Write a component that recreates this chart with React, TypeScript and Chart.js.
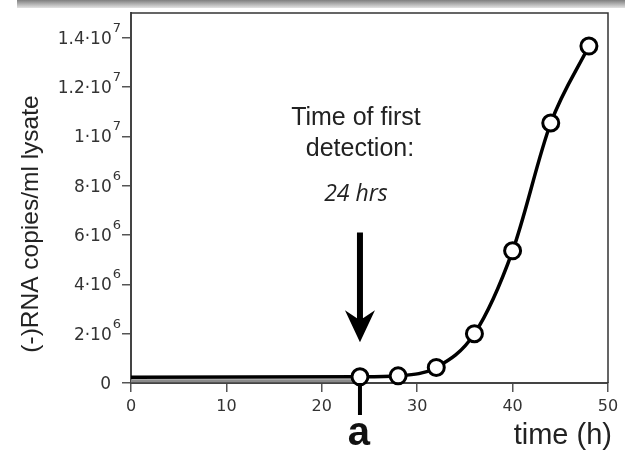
import React, { useEffect, useRef } from 'react';
import { Chart, registerables } from 'chart.js';

Chart.register(...registerables);

// ---- data ----
const timeHours = [0, 24, 28, 32, 36, 40, 44, 48];
const rnaCopies = [2.3e5, 2.5e5, 2.9e5, 6.3e5, 2.0e6, 5.36e6, 1.054e7, 1.366e7];
const markerShown = [false, true, true, true, true, true, true, true];
const shadowHours = [0, 24];
const shadowCopies = [9e4, 9e4];
const yTickValues = [0, 2e6, 4e6, 6e6, 8e6, 1e7, 1.2e7, 1.4e7];
const yTickBases = ['0', '2·10', '4·10', '6·10', '8·10', '1·10', '1.2·10', '1.4·10'];
const yTickExponents = ['', '6', '6', '6', '6', '7', '7', '7'];
const xTitle = 'time (h)';
const yTitle = '(-)RNA copies/ml lysate';
const annotationLines = ['Time of first', 'detection:'];
const annotationHours = '24 hrs';
const detectionHour = 24;
const arrowTopValue = 6.1e6;
const arrowTipValue = 1.65e6;
const panelLabel = 'a';

const decorPlugin = {
  id: 'decor',
  afterDraw(chart: any) {
    const { ctx, chartArea, scales } = chart;
    const xs = scales.x;
    const ys = scales.y;
    ctx.save();
    // frame top/right
    ctx.strokeStyle = '#333';
    ctx.lineWidth = 1.5;
    ctx.beginPath();
    ctx.moveTo(chartArea.left, chartArea.top);
    ctx.lineTo(chartArea.right, chartArea.top);
    ctx.lineTo(chartArea.right, chartArea.bottom);
    ctx.stroke();

    // y tick labels with superscript exponents
    ctx.fillStyle = '#333';
    ctx.textBaseline = 'alphabetic';
    ctx.textAlign = 'left';
    yTickValues.forEach((v, i) => {
      const py = ys.getPixelForValue(v);
      const base = yTickBases[i];
      const exp = yTickExponents[i];
      ctx.font = '17px "DejaVu Sans", sans-serif';
      const bw = ctx.measureText(base).width;
      ctx.font = '13px "DejaVu Sans", sans-serif';
      const ew = exp ? ctx.measureText(exp).width + 1 : 0;
      const right = exp ? chartArea.left - 10 : chartArea.left - 20;
      const startX = right - bw - ew;
      ctx.font = '17px "DejaVu Sans", sans-serif';
      ctx.fillText(base, startX, py + 6);
      if (exp) {
        ctx.font = '13px "DejaVu Sans", sans-serif';
        ctx.fillText(exp, startX + bw + 1, py - 6);
      }
    });

    const ax = xs.getPixelForValue(detectionHour);
    // vertical marker below axis
    ctx.fillStyle = '#000';
    ctx.fillRect(ax - 2, chartArea.bottom, 4, 32);

    // arrow
    const yTop = ys.getPixelForValue(arrowTopValue);
    const yTip = ys.getPixelForValue(arrowTipValue);
    ctx.beginPath();
    ctx.moveTo(ax - 3, yTop);
    ctx.lineTo(ax + 3, yTop);
    ctx.lineTo(ax + 3, yTip - 24);
    ctx.lineTo(ax + 15, yTip - 32);
    ctx.lineTo(ax, yTip);
    ctx.lineTo(ax - 15, yTip - 32);
    ctx.lineTo(ax - 3, yTip - 24);
    ctx.closePath();
    ctx.fill();

    // annotation text
    ctx.fillStyle = '#222';
    ctx.textAlign = 'center';
    ctx.textBaseline = 'alphabetic';
    ctx.font = '25px "Liberation Sans", Arial, sans-serif';
    ctx.fillText(annotationLines[0], ax - 4, yTop - 108);
    ctx.fillText(annotationLines[1], ax, yTop - 77);
    ctx.font = 'italic 23px "Open Sans", sans-serif';
    ctx.fillText(annotationHours, ax - 4, yTop - 32);

    // panel label
    ctx.fillStyle = '#111';
    ctx.font = 'bold 40px "Liberation Sans", Arial, sans-serif';
    ctx.fillText(panelLabel, ax - 1, chartArea.bottom + 62);

    // x title
    ctx.fillStyle = '#222';
    ctx.font = '29px "Liberation Sans", Arial, sans-serif';
    ctx.textAlign = 'right';
    ctx.fillText(xTitle, chartArea.right + 4, chartArea.bottom + 61);

    // y title
    ctx.save();
    ctx.translate(38, (chartArea.top + chartArea.bottom) / 2 + 26);
    ctx.rotate(-Math.PI / 2);
    ctx.textAlign = 'center';
    ctx.font = '24.5px "Liberation Sans", Arial, sans-serif';
    ctx.fillText(yTitle, 0, 0);
    ctx.restore();
    ctx.restore();
  },
};

export default function App() {
  const ref = useRef<HTMLCanvasElement | null>(null);
  useEffect(() => {
    if (!ref.current) return;
    const chart = new Chart(ref.current, {
      type: 'line',
      data: {
        datasets: [
          {
            label: 'RNA',
            data: timeHours.map((t, i) => ({ x: t, y: rnaCopies[i] })),
            borderColor: '#000',
            borderWidth: 3.5,
            pointRadius: markerShown.map((s) => (s ? 8 : 0)),
            pointHoverRadius: markerShown.map((s) => (s ? 8 : 0)),
            pointBackgroundColor: '#fff',
            pointBorderColor: '#000',
            pointBorderWidth: 3,
            cubicInterpolationMode: 'monotone',
            clip: false as any,
          },
          {
            label: 'shadow',
            data: shadowHours.map((t, i) => ({ x: t, y: shadowCopies[i] })),
            borderColor: '#8a8a8a',
            borderWidth: 3,
            pointRadius: 0,
          },
        ],
      },
      options: {
        responsive: false,
        animation: false,
        layout: { padding: { top: 13, right: 17, left: 0, bottom: 0 } },
        plugins: { legend: { display: false }, tooltip: { enabled: false } },
        scales: {
          x: {
            type: 'linear',
            min: 0,
            max: 50,
            ticks: {
              stepSize: 10,
              padding: 5,
              color: '#333',
              font: { family: '"DejaVu Sans", sans-serif', size: 16 },
            },
            grid: { drawOnChartArea: false, drawTicks: true, tickLength: 9, color: '#555', lineWidth: 1.5 },
            border: { display: true, color: '#444', width: 2 },
            afterFit: (s: any) => {
              s.height = 72;
            },
          },
          y: {
            type: 'linear',
            min: 0,
            max: 1.5e7,
            afterBuildTicks: (s: any) => {
              s.ticks = yTickValues.map((v) => ({ value: v }));
            },
            ticks: { display: false },
            grid: { drawOnChartArea: false, drawTicks: true, tickLength: 9, color: '#555', lineWidth: 1.5 },
            border: { display: true, color: '#444', width: 2 },
            afterFit: (s: any) => {
              s.width = 131;
            },
          },
        },
      },
      plugins: [decorPlugin],
    });
    return () => chart.destroy();
  }, []);

  return (
    <div style={{ position: 'absolute', left: 0, top: 0, width: 625, height: 455, background: '#fff' }}>
      <div
        style={{
          position: 'absolute',
          left: 17,
          top: 0,
          width: 608,
          height: 8,
          background: 'linear-gradient(#7e7e7e, #e2e2e2)',
        }}
      />
      <canvas ref={ref} width={625} height={455} style={{ position: 'absolute', left: 0, top: 0 }} />
    </div>
  );
}
